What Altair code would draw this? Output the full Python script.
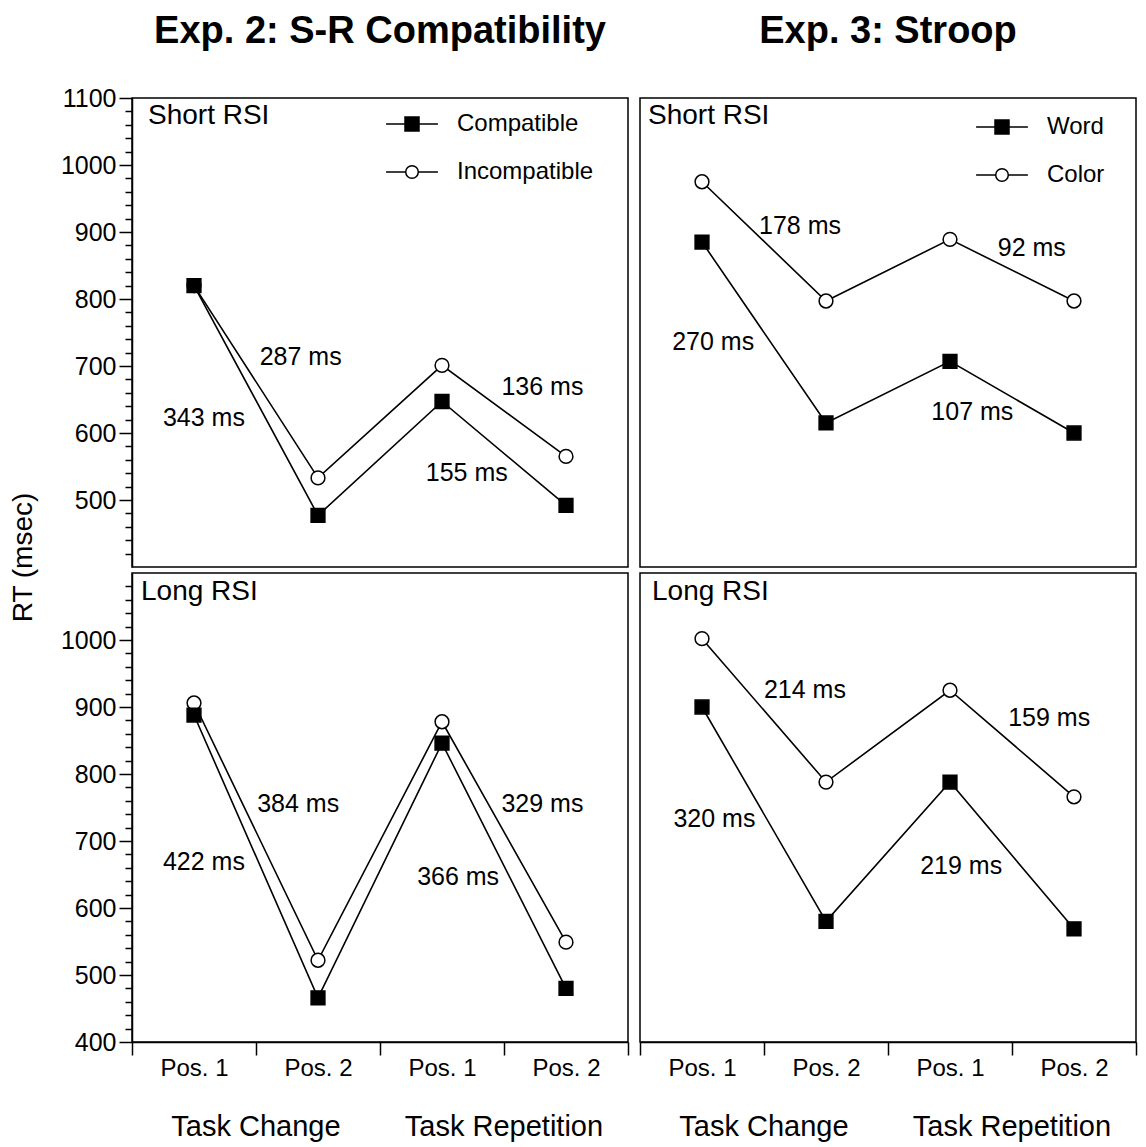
import json
import altair as alt
import pandas as pd

# ---------------- data ----------------
positions = ["Pos. 1", "Pos. 2", "Pos. 1", "Pos. 2"]
groups = ["Task Change", "Task Repetition"]

exp2_title = "Exp. 2: S-R Compatibility"
exp3_title = "Exp. 3: Stroop"
exp2_names = ["Compatible", "Incompatible"]
exp3_names = ["Word", "Color"]

exp2_short_compatible = [820, 477, 647, 492]
exp2_short_incompatible = [820, 533, 701, 565]
exp2_long_compatible = [888, 466, 846, 480]
exp2_long_incompatible = [906, 522, 878, 549]

exp3_short_word = [885, 615, 707, 600]
exp3_short_color = [975, 797, 889, 797]
exp3_long_word = [900, 580, 788, 569]
exp3_long_color = [1002, 788, 925, 766]

# difference annotations: text, x anchor (category units), y anchor (ms)
exp2_short_notes = [("287 ms", 1.36, 714), ("343 ms", 0.58, 622), ("136 ms", 3.31, 668), ("155 ms", 2.70, 541)]
exp2_long_notes = [("384 ms", 1.34, 755), ("422 ms", 0.58, 669), ("329 ms", 3.31, 755), ("366 ms", 2.63, 647)]
exp3_short_notes = [("178 ms", 1.29, 909), ("270 ms", 0.59, 736), ("92 ms", 3.16, 876), ("107 ms", 2.68, 631)]
exp3_long_notes = [("214 ms", 1.33, 926), ("320 ms", 0.60, 733), ("159 ms", 3.30, 883), ("219 ms", 2.59, 662)]

# ---------------- style ----------------
FONT = "Liberation Sans"
W, H = 496, 469
YMIN, YMAX = 400, 1100

# legend glyphs: line through a filled square / line with an open circle
_hatch = "".join("M-1,%.2fH1" % (-1 + 0.2 * k) for k in range(11))
SQ_PATH = "M-3.7,0H-1M1,0H3.7M-1,-1H1V1H-1Z" + _hatch
CI_PATH = "M-3.7,0H-0.9M0.9,0H3.7M0.9,0A0.9,0.9,0,1,1,-0.9,0A0.9,0.9,0,1,1,0.9,0Z"


def make_panel(vals, names, label, notes, legend_pos, label_pos, y_mode, show_x, title=None):
    rows = []
    # open circles first so the filled squares are drawn on top
    for name, v in ((names[1], vals[1]), (names[0], vals[0])):
        for i, rt in enumerate(v):
            rows.append({"series": name, "x": i + 0.5, "rt": rt, "idx": i})
    df = pd.DataFrame(rows)

    xs = alt.Scale(domain=[0, len(positions)], nice=False, zero=False)
    ys = alt.Scale(domain=[YMIN, YMAX], nice=False, zero=False)

    if show_x:
        xvals = [k / 2 for k in range(0, 2 * len(positions) + 1)]
        xaxis = alt.Axis(
            values=xvals,
            labelExpr="datum.value % 1 === 0.5 ? " + json.dumps(positions) + "[floor(datum.value)] : ''",
            title=None, grid=False, tickSize=13,
            tickOpacity={"condition": {"test": "datum.value % 1 === 0", "value": 1}, "value": 0},
            labelFontSize=24, labelPadding=1, labelFlush=False, labelOverlap=False,
        )
    else:
        xaxis = None

    if y_mode:
        if y_mode == "top":
            yvals = list(range(YMIN + 20, YMAX + 1, 20))
        else:
            yvals = list(range(YMIN, YMAX, 20))
        yaxis = alt.Axis(
            values=yvals, format="d",
            labelExpr="datum.value % 100 === 0 ? datum.label : ''",
            title=None, grid=False,
            tickSize={"condition": {"test": "datum.value % 100 === 0", "value": 13}, "value": 7},
            labelFontSize=25, labelPadding=3, labelOverlap=False, labelFlush=False,
        )
    else:
        yaxis = None

    def X(f):
        return alt.X(f, scale=xs, axis=xaxis)

    def Y(f):
        return alt.Y(f, scale=ys, axis=yaxis)

    base = alt.Chart(df)
    line = base.mark_line(color="black", strokeWidth=1.6).encode(
        x=X("x:Q"), y=Y("rt:Q"), detail="series:N", order="idx:Q"
    )
    pts = base.mark_point(filled=True, size=190, stroke="black", strokeWidth=1.5, opacity=1).encode(
        x=X("x:Q"), y=Y("rt:Q"),
        shape=alt.Shape("series:N", scale=alt.Scale(domain=names, range=["square", "circle"]), legend=None),
        fill=alt.Fill("series:N", scale=alt.Scale(domain=names, range=["black", "white"]), legend=None),
    )
    ndf = pd.DataFrame(notes, columns=["t", "lx", "ly"])
    note_layer = alt.Chart(ndf).mark_text(fontSize=25, font=FONT, color="black").encode(
        x=X("lx:Q"), y=Y("ly:Q"), text="t:N"
    )
    plabel = alt.Chart(pd.DataFrame({"t": [label]})).mark_text(
        align="left", baseline="middle", fontSize=28, font=FONT, color="black"
    ).encode(x=alt.value(label_pos[0]), y=alt.value(label_pos[1]), text="t:N")

    layers = [line, pts, note_layer, plabel]

    if legend_pos is not None:
        leg = alt.Legend(
            orient="none", legendX=legend_pos[0], legendY=legend_pos[1], title=None,
            labelFontSize=24, labelFont=FONT, labelColor="black", symbolSize=196,
            labelOffset=33, rowPadding=24, symbolStrokeWidth=1.5,
            symbolStrokeColor="black", symbolOpacity=1,
        )
        # legend-only layer (no data rows survive the filter)
        legend_layer = base.transform_filter("false").mark_point(
            filled=False, stroke="black", strokeWidth=1.5, opacity=1
        ).encode(
            x=X("x:Q"), y=Y("rt:Q"),
            shape=alt.Shape("series:N", scale=alt.Scale(domain=names, range=[SQ_PATH, CI_PATH]), legend=leg),
        )
        layers.insert(2, legend_layer)

    if title is not None:
        tdf = pd.DataFrame({"t": [title], "tx": [len(positions) / 2]})
        tlayer = alt.Chart(tdf).mark_text(
            fontSize=38, font=FONT, fontWeight="bold", color="black", baseline="top"
        ).encode(x=X("tx:Q"), y=alt.value(-85), text="t:N")
        layers.append(tlayer)

    if show_x:
        gdf = pd.DataFrame({"g": groups, "gx": [2 * k + 1.0 for k in range(len(groups))]})
        glab = alt.Chart(gdf).mark_text(fontSize=29, font=FONT, color="black", baseline="middle").encode(
            x=X("gx:Q"), y=alt.value(H + 85), text="g:N"
        )
        layers.append(glab)

    chart = alt.layer(*layers).properties(width=W, height=H)
    if legend_pos is not None:
        chart = chart.resolve_scale(shape="independent")
    return chart


tl = make_panel([exp2_short_compatible, exp2_short_incompatible], exp2_names, "Short RSI",
                exp2_short_notes, (268, 14), (16, 18), "top", False, title=exp2_title)
bl = make_panel([exp2_long_compatible, exp2_long_incompatible], exp2_names, "Long RSI",
                exp2_long_notes, None, (9, 19), "bottom", True)
tr = make_panel([exp3_short_word, exp3_short_color], exp3_names, "Short RSI",
                exp3_short_notes, (350, 17), (8, 18), None, False, title=exp3_title)
br = make_panel([exp3_long_word, exp3_long_color], exp3_names, "Long RSI",
                exp3_long_notes, None, (12, 19), None, True)

left = alt.vconcat(tl, bl, spacing=4)
right = alt.vconcat(tr, br, spacing=4)

ytitle = alt.Chart(pd.DataFrame({"v": [0]})).mark_point(opacity=0).encode(
    y=alt.Y("v:Q", axis=alt.Axis(title="RT (msec)", labels=False, ticks=False, domain=False, grid=False,
                                 titleFontSize=28, titleFont=FONT, titleFontWeight="normal",
                                 titleColor="black", titlePadding=0))
).properties(width=1, height=918, view=alt.ViewBackground(stroke="transparent"))

chart = alt.hconcat(ytitle, alt.hconcat(left, right, spacing=8), spacing=18).properties(
    padding={"left": 0, "top": 4, "right": 0, "bottom": 0},
    background="white",
).configure_view(stroke="black", strokeWidth=1.5).configure_axis(
    domainColor="black", tickColor="black", labelColor="black", labelFont=FONT,
    domainWidth=1.5, tickWidth=1.5,
)

chart.save("out.html", embed_options={"renderer": "svg", "actions": False})
